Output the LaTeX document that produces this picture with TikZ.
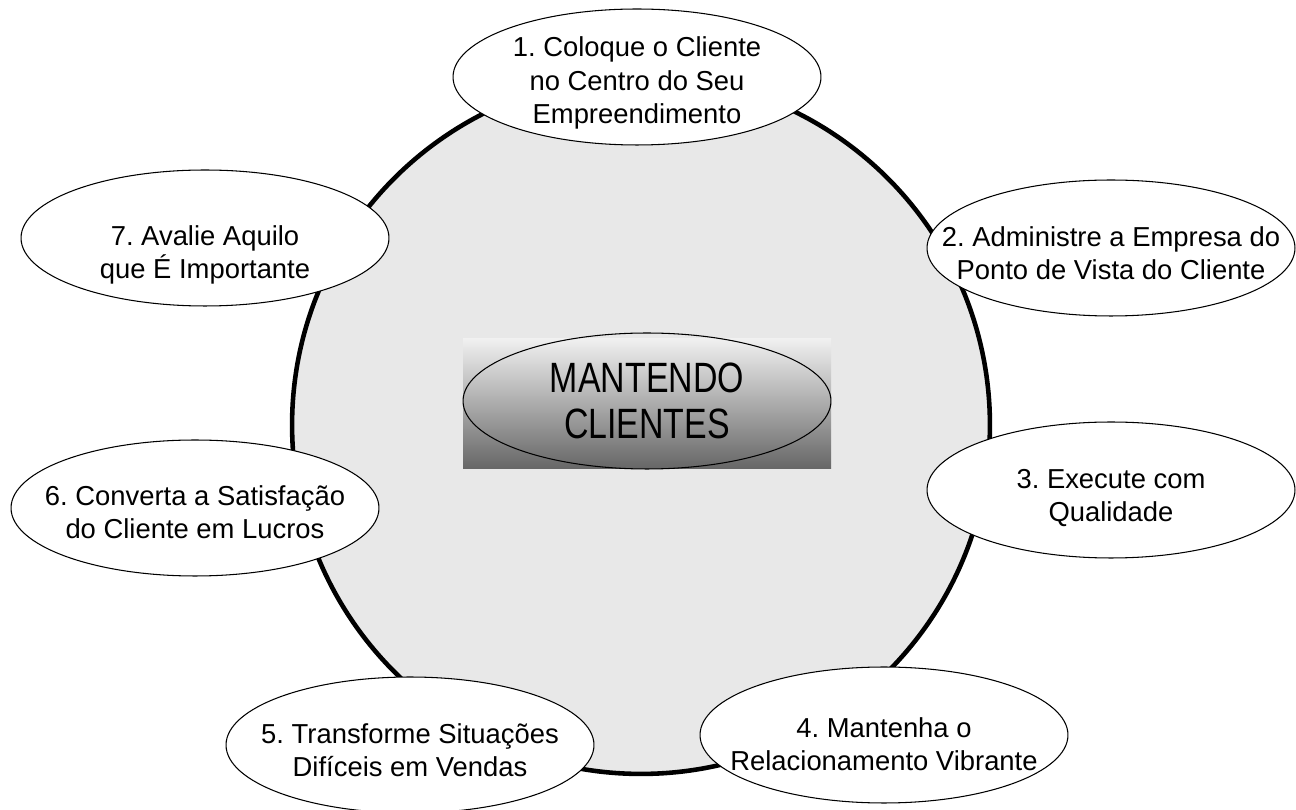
\documentclass[tikz,border=0pt]{standalone}
\usepackage{fontspec}
\setmainfont{Liberation Sans}
\frenchspacing
\usetikzlibrary{shapes.geometric}

\definecolor{discfill}{HTML}{E8E8E8}
\definecolor{shadetop}{HTML}{F0F0F0}
\definecolor{shademid}{HTML}{BEBEBE}
\definecolor{shadebot}{HTML}{666666}

\begin{document}
\begin{tikzpicture}[x=0.02cm, y=-0.02cm,
  stepoval/.style={draw=black, line width=0.6pt, fill=white},
  steptext/.style={align=center, font=\fontsize{15.6}{19}\selectfont}]

\useasboundingbox (0,0) rectangle (1296,810);

% The big disc
\draw[line width=2.6pt, fill=discfill] (641,425) circle (6.98cm);

% The centre
\shade[top color=shadetop, middle color=shademid, bottom color=shadebot] (463,339) rectangle (831,469);
\draw[line width=0.6pt] (647,401) ellipse (3.68cm and 1.36cm);
\node (centre) at (647,406) {\fontsize{19.3}{21}\selectfont
  \scalebox{1}[1.25]{\begin{tabular}{@{}c@{}}MANTENDO\\CLIENTES\end{tabular}}};

% The seven steps
\draw[stepoval] (637,77) ellipse (3.68cm and 1.36cm);
\node[steptext] (step1) at (637,83) {1. Coloque o Cliente\\no Centro do Seu\\Empreendimento};

\draw[stepoval] (1111,248) ellipse (3.68cm and 1.36cm);
\node[steptext] (step2) at (1111,253) {2. Administre a Empresa do\\Ponto de Vista do Cliente};

\draw[stepoval] (1111,490) ellipse (3.68cm and 1.36cm);
\node[steptext] (step3) at (1111,498) {3. Execute com\\Qualidade};

\draw[stepoval] (884,735) ellipse (3.68cm and 1.36cm);
\node[steptext] (step4) at (884,744) {4. Mantenha o\\Relacionamento Vibrante};

\draw[stepoval] (410,745) ellipse (3.68cm and 1.36cm);
\node[steptext] (step5) at (410,750) {5. Transforme Situações\\Difíceis em Vendas};

\draw[stepoval] (195,508) ellipse (3.68cm and 1.36cm);
\node[steptext] (step6) at (195,512) {6. Converta a Satisfação\\do Cliente em Lucros};

\draw[stepoval] (205,238) ellipse (3.68cm and 1.36cm);
\node[steptext] (step7) at (205,255) {7. Avalie Aquilo\\que É Importante};

\end{tikzpicture}
\end{document}
